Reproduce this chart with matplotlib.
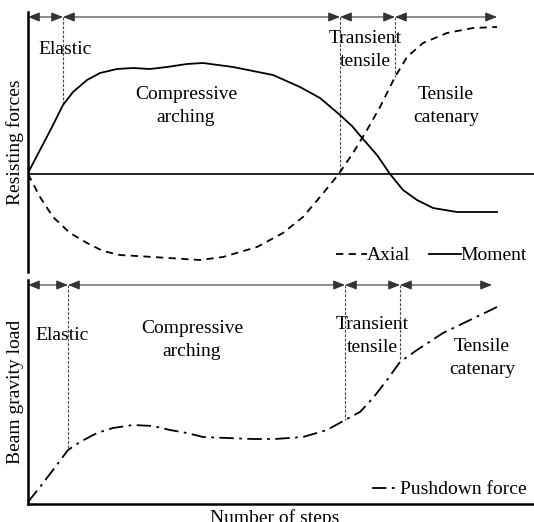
import numpy as np
import matplotlib
matplotlib.use('Agg')
import matplotlib.pyplot as plt

plt.rcParams['font.family'] = ['Liberation Serif', 'DejaVu Serif']
plt.rcParams['font.size'] = 14

# top panel: resisting forces (arbitrary units, zero = neutral line)
moment_x = [0, 12, 24, 35, 45, 59, 72, 89, 105, 122, 139, 159, 175, 205, 245,
            272, 292, 312, 324, 335, 349, 362, 375, 389, 405, 429, 469]
moment_y = [1, 24, 47, 69, 82, 94, 101, 105, 106, 105, 107, 110, 111, 107, 99,
            87, 76, 59, 48, 35, 19, 0, -16, -26, -34, -38, -38]
axial_x = [0, 12, 25, 42, 59, 75, 92, 125, 172, 195, 229, 255, 275, 292, 310,
           325, 339, 352, 367, 379, 395, 419, 445, 469]
axial_y = [0, -23, -43, -59, -69, -77, -81, -83, -86, -83, -73, -59, -43, -23,
           -1, 21, 44, 67, 97, 117, 131, 141, 146, 147]

# bottom panel: pushdown force
push_x = [0, 12, 25, 40, 52, 69, 85, 105, 125, 142, 159, 175, 199, 225, 247,
          275, 299, 317, 332, 345, 359, 372, 389, 415, 442, 469]
push_y = [2, 17, 34, 54, 62, 71, 76, 79, 78, 74, 71, 67, 66, 65, 65, 67, 74,
          84, 92, 106, 124, 142, 154, 171, 184, 197]

# stage boundaries (steps)
top_bounds = [0, 35, 312, 367, 469]
bot_bounds = [0, 40, 317, 372, 464]
top_vline_ends = [71, -1, 97]
bot_vline_ends = [56, 84, 144]

stage_names = ['Elastic', 'Compressive\narching', 'Transient\ntensile',
               'Tensile\ncatenary']

W, H = 534, 522
fig = plt.figure(figsize=(W / 100, H / 100), dpi=100)
ax1 = fig.add_axes([28 / W, 1 - 272 / H, 506 / W, 260 / H])
ax2 = fig.add_axes([28 / W, 1 - 504 / H, 506 / W, 224 / H])

for ax in (ax1, ax2):
    ax.set_xlim(0, 506)
    ax.set_xticks([])
    ax.set_yticks([])
    ax.spines['top'].set_visible(False)
    ax.spines['right'].set_visible(False)
    ax.spines['left'].set_linewidth(1.8)

ax1.set_ylim(-98, 162)
ax1.spines['bottom'].set_visible(False)
ax1.axhline(0, color='black', lw=1.2)
ax2.set_ylim(0, 224)
ax2.spines['bottom'].set_linewidth(1.8)


def stage_arrows(ax, bounds, y, ends):
    for a, b in zip(bounds[:-1], bounds[1:]):
        ax.annotate('', xy=(b, y), xytext=(a, y),
                    arrowprops=dict(arrowstyle='<|-|>,head_length=0.5,head_width=0.2',
                                    color='#333333', lw=0.8,
                                    shrinkA=0, shrinkB=0))
    for xb, ye in zip(bounds[1:-1], ends):
        ax.plot([xb, xb], [y, ye], color='#444444', lw=0.8,
                ls=(0, (2.5, 1.5)))


stage_arrows(ax1, top_bounds, 157, top_vline_ends)
stage_arrows(ax2, bot_bounds, 219, bot_vline_ends)

ax1.plot(axial_x, axial_y, color='black', lw=1.3, ls=(0, (4, 3)),
         label='Axial')
ax1.plot(moment_x, moment_y, color='black', lw=1.3, label='Moment')
ax2.plot(push_x, push_y, color='black', lw=1.3, ls=(0, (8, 3, 1.5, 3)),
         label='Pushdown force')

top_text_pos = [(37, 125), (158, 68), (337, 124), (418, 68)]
bot_text_pos = [(34, 169), (164, 164), (344, 168), (454, 146)]
for (x, y), name in zip(top_text_pos, stage_names):
    ax1.text(x, y, name, ha='center', va='center', linespacing=1.5)
for (x, y), name in zip(bot_text_pos, stage_names):
    ax2.text(x, y, name, ha='center', va='center', linespacing=1.5)

ax1.legend(loc='lower right', bbox_to_anchor=(1.013, -0.023), ncol=2,
           frameon=False, handlelength=1.6, handletextpad=0.0,
           columnspacing=1.0, borderpad=0.2)
ax2.legend(loc='lower right', bbox_to_anchor=(1.013, -0.036), frameon=False,
           handlelength=1.45, handletextpad=0.0, borderpad=0.2)

ax1.set_ylabel('Resisting forces')
ax1.yaxis.set_label_coords(-0.008, 0.5)
ax2.set_ylabel('Beam gravity load')
ax2.yaxis.set_label_coords(-0.008, 0.5)
ax2.set_xlabel('Number of steps')
ax2.xaxis.set_label_coords(0.488, -0.025)

fig.savefig('out.png', dpi=100)
